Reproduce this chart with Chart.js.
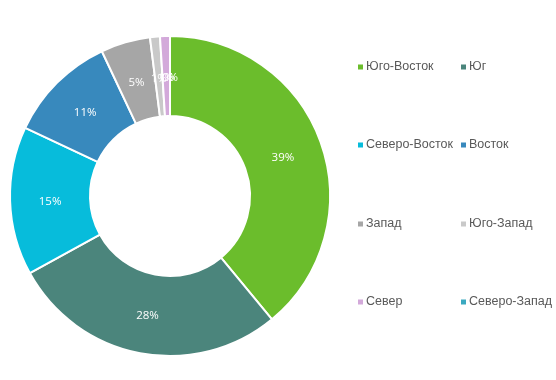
<!DOCTYPE html>
<html>
<head>
<meta charset="utf-8">
<script src="https://cdn.jsdelivr.net/npm/chart.js@4/dist/chart.umd.min.js"></script>
<style>
  html, body { margin: 0; padding: 0; background: #fff; }
  #wrap { width: 556px; height: 380px; position: relative; }
</style>
</head>
<body>
<div id="wrap"><canvas id="regionChart" width="556" height="380"></canvas></div>
<script>
// Share of sales by region (percent)
const regions = ['Юго-Восток', 'Юг', 'Северо-Восток', 'Восток', 'Запад', 'Юго-Запад', 'Север', 'Северо-Запад'];
const shares = [39, 28, 15, 11, 5, 1, 1, 0];
const colors = ['#6bbd2c', '#4b857c', '#07bcdb', '#3889bd', '#a6a6a6', '#c9c9c9', '#d3a9da', '#3aa9c0'];

// Percent labels in the middle of each ring segment
const sliceLabels = {
  id: 'sliceLabels',
  afterDatasetsDraw(chart) {
    const ctx = chart.ctx;
    const meta = chart.getDatasetMeta(0);
    ctx.save();
    ctx.fillStyle = '#ffffff';
    ctx.font = '11.5px "Open Sans", "DejaVu Sans", sans-serif';
    ctx.textAlign = 'center';
    ctx.textBaseline = 'middle';
    meta.data.forEach((arc, i) => {
      const mid = (arc.startAngle + arc.endAngle) / 2;
      const r = (arc.innerRadius + arc.outerRadius) / 2;
      const x = arc.x + Math.cos(mid) * r;
      const y = arc.y + Math.sin(mid) * r + 2;
      ctx.fillText(shares[i] + '%', x, y);
    });
    ctx.restore();
  }
};

// Two-column legend to the right of the ring
const sideLegend = {
  id: 'sideLegend',
  afterDraw(chart) {
    const ctx = chart.ctx;
    const cols = [358, 461];
    const rows = [67, 145, 224, 302];
    ctx.save();
    ctx.font = '12.5px "Liberation Sans", Arial, sans-serif';
    ctx.textBaseline = 'middle';
    ctx.textAlign = 'left';
    regions.forEach((name, i) => {
      const x = cols[i % 2];
      const y = rows[Math.floor(i / 2)];
      ctx.fillStyle = colors[i];
      ctx.fillRect(x, y - 2.5, 5, 5);
      ctx.fillStyle = '#595959';
      ctx.fillText(name, x + 8, y);
    });
    ctx.restore();
  }
};

new Chart(document.getElementById('regionChart'), {
  type: 'doughnut',
  data: {
    labels: regions,
    datasets: [{
      data: shares,
      backgroundColor: colors,
      borderColor: '#ffffff',
      borderWidth: 2
    }]
  },
  options: {
    responsive: false,
    animation: false,
    cutout: '50%',
    layout: { padding: { left: 9, right: 225, top: 35, bottom: 23 } },
    plugins: {
      legend: { display: false },
      tooltip: { enabled: false }
    }
  },
  plugins: [sliceLabels, sideLegend]
});
</script>
</body>
</html>
